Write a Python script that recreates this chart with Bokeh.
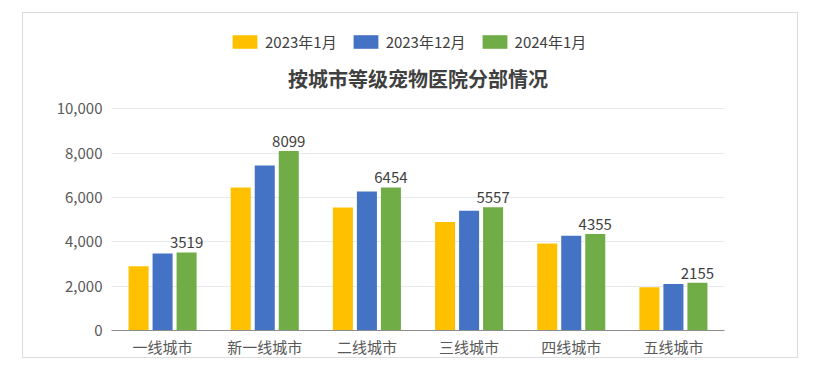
from bokeh.plotting import figure
from bokeh.models import ColumnDataSource, FactorRange, Range1d, Legend, LegendItem, NumeralTickFormatter, LabelSet, Label
from bokeh.core.properties import value
from bokeh.transform import dodge
from bokeh.embed import file_html
from bokeh.resources import INLINE

cities = ["一线城市", "新一线城市", "二线城市", "三线城市", "四线城市", "五线城市"]
jan2023 = [2900, 6450, 5550, 4900, 3920, 1950]
dec2023 = [3470, 7440, 6270, 5400, 4280, 2100]
jan2024 = [3519, 8099, 6454, 5557, 4355, 2155]
series_names = ["2023年1月", "2023年12月", "2024年1月"]
colors = ["#FFC000", "#4472C4", "#70AD47"]
y_ticks = [0, 2000, 4000, 6000, 8000, 10000]
title_text = "按城市等级宠物医院分部情况"

FONT = "Noto Sans CJK SC"

src = ColumnDataSource(dict(city=cities, a=jan2023, b=dec2023, c=jan2024,
                            lab=[str(v) for v in jan2024]))

p = figure(x_range=FactorRange(*cities), y_range=Range1d(0, 13940),
           width=776, height=346, output_backend="svg", toolbar_location=None,
           min_border_left=88, min_border_right=75, min_border_top=8, min_border_bottom=28,
           margin=(12, 0, 0, 22), styles={"border": "1px solid #dcdcdc", "box-sizing": "border-box"})
p.title = None

offsets = [-0.235, 0.0, 0.235]
renderers = []
for key, off, col in zip(["a", "b", "c"], offsets, colors):
    r = p.vbar(x=dodge("city", off, range=p.x_range), top=key, width=0.196,
               source=src, fill_color=col, line_color=None)
    renderers.append(r)

labels = LabelSet(x=dodge("city", 0.235, range=p.x_range), y="c", text="lab", source=src,
                  text_align="center", text_baseline="bottom", y_offset=4,
                  text_font=value(FONT), text_font_size="15px", text_color="#404040")
p.add_layout(labels)

p.add_layout(Label(x=3.0, y=11360, text=title_text, text_align="center", text_baseline="middle",
                   text_font=FONT, text_font_size="20px", text_font_style="bold",
                   text_color="#404040"))

legend = Legend(items=[LegendItem(label=n, renderers=[r]) for n, r in zip(series_names, renderers)],
                orientation="horizontal", location=(118, 278),
                label_text_font=FONT, label_text_font_size="15px", label_text_color="#404040",
                glyph_width=31, glyph_height=17, spacing=13, label_standoff=5,
                border_line_color=None, background_fill_alpha=0, margin=0, padding=4)
p.add_layout(legend)

p.yaxis.ticker = y_ticks
p.yaxis.formatter = NumeralTickFormatter(format="0,0")
p.yaxis.axis_line_color = None
p.yaxis.major_tick_line_color = None
p.yaxis.minor_tick_line_color = None
p.yaxis.major_tick_out = 0
p.yaxis.major_tick_in = 0
p.yaxis.minor_tick_out = 0
p.yaxis.major_label_text_font = FONT
p.yaxis.major_label_text_font_size = "15px"
p.yaxis.major_label_text_color = "#595959"
p.yaxis.major_label_standoff = 9

p.xaxis.axis_line_color = "#8c8c8c"
p.xaxis.major_tick_line_color = None
p.xaxis.minor_tick_line_color = None
p.xaxis.major_tick_out = 0
p.xaxis.major_tick_in = 0
p.xaxis.minor_tick_out = 0
p.xaxis.major_label_text_font = FONT
p.xaxis.major_label_text_font_size = "15px"
p.xaxis.major_label_text_color = "#595959"
p.xaxis.major_label_standoff = 5

p.xgrid.grid_line_color = None
p.ygrid.grid_line_color = "#e6e9ee"
p.outline_line_color = None

open("out.html", "w").write(file_html(p, INLINE))
